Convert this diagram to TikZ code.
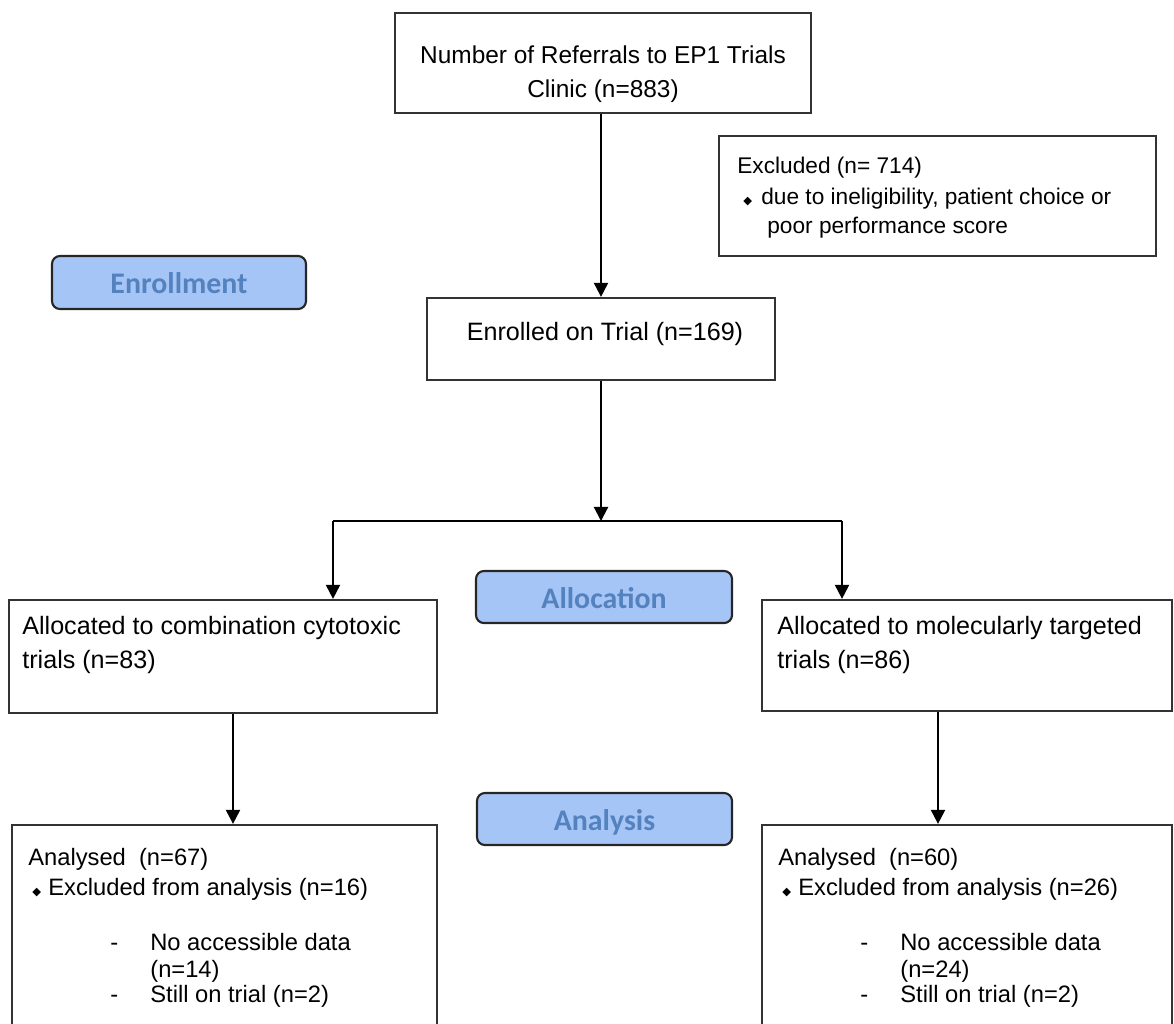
\documentclass[tikz,border=0pt]{standalone}
\usepackage{fontspec}
\setmainfont{Liberation Sans}
\newfontfamily\pillfont{Carlito}
\newfontfamily\bulletfont{DejaVu Sans}
\usepackage{xcolor}
\usetikzlibrary{arrows.meta}

\definecolor{pillfill}{RGB}{166,197,247}
\definecolor{pilltext}{RGB}{84,130,190}
\newcommand{\dmd}{{\bulletfont\fontsize{6.5}{7}\selectfont ◆}}

\begin{document}
\begin{tikzpicture}[
    box/.style={rectangle, draw=black!80, line width=1.3pt, inner sep=0pt},
    txt/.style={inner sep=0pt, align=left, anchor=base west, font=\fontsize{13.5}{15.3}\selectfont},
    pill/.style={rectangle, draw=black!85, line width=1.2pt, rounded corners=4.5pt, fill=pillfill, text=pilltext, font=\pillfont\bfseries\fontsize{17}{20}\selectfont, inner sep=0pt, text height=13pt, text depth=0pt},
    arrow/.style={line width=1.2pt, -{Triangle[length=8pt, width=8pt]}},
    link/.style={line width=1.2pt}
]
\useasboundingbox (0,0) rectangle (23.48,-20.46);
\clip (0,0) rectangle (23.48,-20.46);

% Referrals
\node[box, minimum width=8.32cm, minimum height=2.0cm] (refer) at (12.06,-1.26) {};
\node[txt, anchor=base, align=center, font=\fontsize{13.9}{15.3}\selectfont] (referTxt) at (12.06,-1.94)
    {Number of Referrals to EP1 Trials\\[0.14cm] Clinic (n=883)};

% Excluded
\node[box, minimum width=8.74cm, minimum height=2.40cm] (excl) at (18.75,-3.92) {};
\node[txt, font=\fontsize{12.9}{15.3}\selectfont] (exclTxt) at (14.74,-4.66) {Excluded (n= 714)\\[0.08cm]
    \hspace*{0.12cm}\makebox[0.36cm][l]{\dmd}due to ineligibility, patient choice or\\[0.04cm]
    \hspace*{0.6cm}poor performance score};

% Enrolled
\node[box, minimum width=6.96cm, minimum height=1.64cm] (enrol) at (12.02,-6.78) {};
\node[txt, anchor=base, font=\fontsize{14.3}{16}\selectfont] (enrolTxt) at (12.10,-6.80) {Enrolled on Trial (n=169)};

% Phase labels
\node[pill, minimum width=5.08cm, minimum height=1.06cm] (enrollment) at (3.58,-5.65) {Enrollment};
\node[pill, minimum width=5.12cm, minimum height=1.04cm] (allocation) at (12.08,-11.94) {Allocation};
\node[pill, minimum width=5.10cm, minimum height=1.04cm] (analysis) at (12.09,-16.38) {Analysis};

% Allocation arms
\node[box, minimum width=8.56cm, minimum height=2.26cm] (allocL) at (4.46,-13.13) {};
\node[txt, font=\fontsize{14.3}{15.3}\selectfont] (allocLTxt) at (0.44,-13.36) {Allocated to combination cytotoxic\\[0.14cm] trials (n=83)};
\node[box, minimum width=8.20cm, minimum height=2.22cm] (allocR) at (19.34,-13.11) {};
\node[txt, font=\fontsize{14.3}{15.3}\selectfont] (allocRTxt) at (15.54,-13.36) {Allocated to molecularly targeted\\[0.14cm] trials (n=86)};

% Analysis arms
\node[box, minimum width=8.50cm, minimum height=4.90cm] (analL) at (4.49,-18.95) {};
\node[txt] (analLTxt) at (0.56,-20.04) {Analysed\ \ (n=67)\\[0.06cm]
    \hspace*{0.08cm}\makebox[0.32cm][l]{\dmd}Excluded from analysis (n=16)\\[0.56cm]
    \hspace*{1.64cm}\makebox[0.8cm][l]{-}No accessible data\\
    \hspace*{2.44cm}(n=14)\\[-0.04cm]
    \hspace*{1.64cm}\makebox[0.8cm][l]{-}Still on trial (n=2)};
\node[box, minimum width=8.20cm, minimum height=4.90cm] (analR) at (19.34,-18.95) {};
\node[txt] (analRTxt) at (15.56,-20.04) {Analysed\ \ (n=60)\\[0.06cm]
    \hspace*{0.08cm}\makebox[0.32cm][l]{\dmd}Excluded from analysis (n=26)\\[0.56cm]
    \hspace*{1.64cm}\makebox[0.8cm][l]{-}No accessible data\\
    \hspace*{2.44cm}(n=24)\\[-0.04cm]
    \hspace*{1.64cm}\makebox[0.8cm][l]{-}Still on trial (n=2)};

% Arrows
\coordinate (split) at (12.02,-10.42);
\coordinate (splitL) at (6.66,-10.42);
\coordinate (splitR) at (16.84,-10.42);
\draw[arrow] (refer.south -| enrol.north) -- (enrol.north);
\draw[arrow] (enrol.south) -- (split);
\draw[link] (splitL) -- (splitR);
\draw[arrow] (splitL) -- (splitL |- allocL.north);
\draw[arrow] (splitR) -- (splitR |- allocR.north);
\draw[arrow] ([xshift=0.2cm]allocL.south) -- ([xshift=0.2cm]allocL.south |- analL.north);
\draw[arrow] ([xshift=-0.58cm]allocR.south) -- ([xshift=-0.58cm]allocR.south |- analR.north);

\end{tikzpicture}
\end{document}
